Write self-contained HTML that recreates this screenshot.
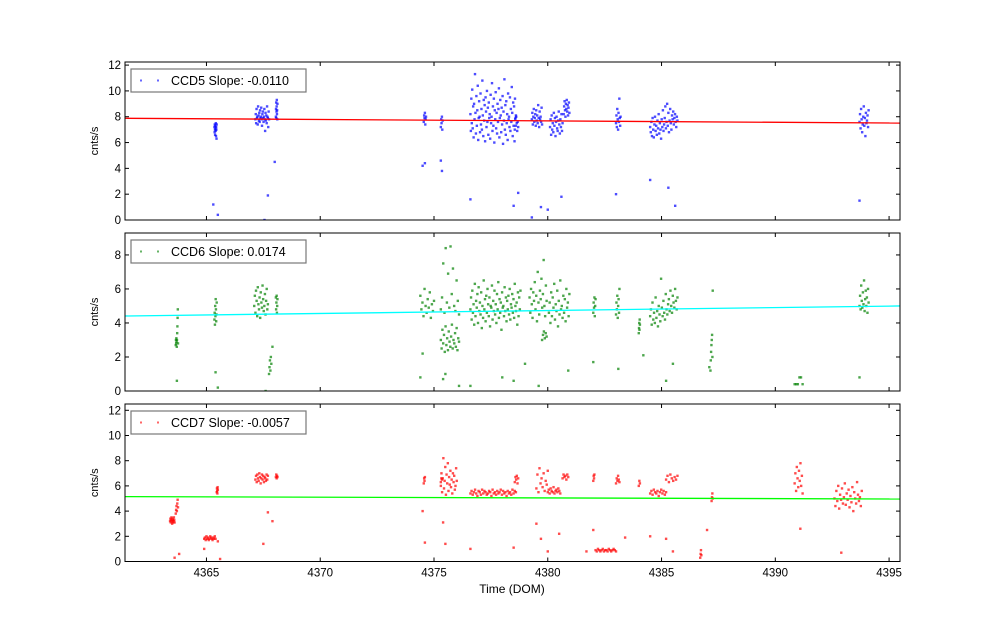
<!DOCTYPE html>
<html><head><meta charset="utf-8"><style>
body{margin:0;background:#fff;}
svg{display:block;font-family:"Liberation Sans","DejaVu Sans",sans-serif;}
</style></head><body>
<svg id="chart" width="1000" height="624" viewBox="0 0 1000 624" xmlns="http://www.w3.org/2000/svg">
<rect width="1000" height="624" fill="#fff"/>
</svg>
<script>
const xTicks=[4365,4370,4375,4380,4385,4390,4395];
const xDomain=[4361.42,4395.48];
const ccd5Label="CCD5 Slope: -0.0110", ccd6Label="CCD6 Slope: 0.0174", ccd7Label="CCD7 Slope: -0.0057";
const ccd5Fit=[7.88,7.51], ccd6Fit=[4.41,5.0], ccd7Fit=[5.15,4.96];

const ccd5SegStart=[4365.35,4367.15,4368.05,4374.55,4375.3,4376.6,4378.55,4379.3,4380.1,4380.7,4383.0,4384.5,4393.7];
const ccd5SegEnd=[4365.45,4367.75,4368.12,4374.65,4375.38,4378.6,4378.7,4379.75,4380.65,4380.95,4383.2,4385.7,4394.1];
const ccd5SegVals=[
[7.2,6.8,7.4,7.0,6.6,7.3,7.1,6.9,7.5,6.5,7.2,7.0,6.3,7.4],
[7.8,8.2,7.5,8.6,7.9,8.0,7.4,8.8,8.1,7.7,8.3,7.6,8.5,7.9,8.0,8.7,7.8,7.3,8.2,8.4,7.9,7.6,8.0,8.6,7.8,6.9,8.3,7.7,8.1,7.5,8.8,8.0,7.9,7.2,8.4,7.8],
[8.0,8.6,9.1,7.9,8.4,8.8,9.3,8.2,8.5,7.8,9.0],
[7.6,8.1,7.9,8.3,7.4,7.8,8.0],
[7.2,7.8,7.5,8.0,7.0,7.7],
[8.2,6.9,9.4,7.5,10.1,7.1,8.8,6.4,9.0,7.8,11.3,8.3,6.7,9.6,7.3,8.5,10.4,6.2,7.9,9.2,8.0,6.8,9.8,7.4,8.6,7.0,10.8,8.1,6.5,9.3,7.7,8.9,6.1,9.5,8.4,7.2,10.0,7.6,8.7,6.6,9.1,7.9,8.2,6.3,9.7,7.5,8.0,10.6,6.9,8.8,7.3,9.4,6.0,8.5,7.8,9.9,7.1,8.3,6.7,9.0,7.6,8.6,10.2,6.4,7.9,9.3,8.1,6.8,8.7,7.4,9.6,5.9,8.4,7.7,10.9,7.0,8.9,6.6,9.2,7.5,8.2,6.2,9.8,7.8,8.0,7.2,9.5,6.9,8.6,7.6,10.3,8.3,6.5,9.1,7.3,8.8,6.1,9.4,7.9,8.1],
[7.0,7.8,7.3,8.0,7.5,6.9,7.6,7.2],
[7.8,8.3,7.4,8.0,8.6,7.6,7.9,8.2,7.3,8.5,7.7,8.1,7.5,8.9,7.9,7.2,8.4,7.8,8.0,7.6,8.7,7.4],
[7.2,7.8,6.6,8.1,7.0,7.5,6.8,8.3,7.3,7.9,6.5,7.6,8.0,7.1,6.9,7.7,8.4,7.4,6.7,7.8,7.2,8.2,6.9,7.5],
[8.2,8.8,9.2,8.5,8.0,9.0,8.6,9.3,8.4,8.9,8.1,8.7,9.1,8.3],
[7.5,8.1,7.2,8.6,7.8,7.0,8.3,7.6,9.4,7.9,7.3,8.0],
[7.2,6.8,7.6,6.5,7.9,7.0,6.4,7.4,8.0,6.9,7.3,6.6,7.7,7.1,8.2,6.7,7.5,7.0,6.3,7.8,7.2,8.5,6.9,7.4,7.9,8.8,7.1,7.6,9.0,7.3,8.3,6.8,7.7,8.6,7.5,7.0,8.1,7.8,8.4,7.4,7.9,8.2,7.6,7.2,8.0,7.7],
[7.6,8.2,7.1,8.6,7.8,6.8,7.4,8.0,8.8,7.3,7.9,6.5,8.3,7.5,7.7,8.1,7.2,8.5]];
const ccd5OutT=[4365.3,4365.5,4367.7,4367.55,4368.0,4374.5,4374.6,4375.3,4375.35,4376.6,4378.7,4378.5,4379.3,4380.0,4379.7,4380.6,4383.0,4384.5,4385.3,4385.6,4393.7];
const ccd5OutV=[1.2,0.4,1.9,0.0,4.5,4.2,4.4,4.6,3.8,1.6,2.1,1.1,0.2,0.8,1.0,1.8,2.0,3.1,2.5,1.1,1.5];

const ccd6SegStart=[4363.65,4365.35,4367.1,4367.75,4368.05,4374.4,4375.3,4375.3,4376.6,4379.2,4379.75,4380.05,4382.0,4383.0,4384.0,4384.5,4387.15,4390.85,4393.7];
const ccd6SegEnd=[4363.75,4365.45,4367.7,4367.85,4368.12,4375.0,4376.1,4376.1,4378.8,4379.95,4379.95,4380.95,4382.1,4383.15,4384.05,4385.7,4387.25,4391.2,4394.1];
const ccd6SegVals=[
[2.7,3.0,2.8,3.1,2.9,2.6,3.0,3.4,3.8,4.3,4.8,2.8],
[4.2,4.6,3.9,5.0,4.4,5.4,4.8,4.1,4.5,5.2],
[5.0,5.6,4.6,5.9,5.3,4.4,6.1,5.1,4.8,5.5,4.3,5.8,5.2,4.9,6.2,5.4,4.7,5.0,5.7,4.5,5.3,6.0,4.8,5.1],
[1.0,1.4,1.8,1.2,2.0,1.6],
[5.5,4.8,5.2,5.6,4.6,5.0,5.4],
[5.6,4.8,5.2,4.4,6.0,5.0,4.6,5.4,4.9,5.8,4.3,5.1,4.7,5.3],
[3.0,2.5,3.6,2.8,3.3,2.3,3.8,2.7,3.1,2.4,3.5,2.9,2.6,3.2,3.9,2.5,3.0,2.8,3.4,2.6,3.7,2.4,3.1,2.9],
[4.8,5.5,7.5,4.6,8.4,5.2,6.9,4.9,8.5,5.7,7.2,5.0,4.7,6.5,5.3,4.5],
[4.8,5.5,4.2,5.9,4.6,5.1,3.9,6.3,4.4,5.3,4.9,5.7,4.0,6.1,4.7,5.2,4.5,5.8,3.7,5.0,4.3,6.5,4.8,5.4,4.1,5.6,4.6,6.0,5.1,4.4,5.5,3.8,5.0,4.9,6.2,4.2,5.3,4.7,5.9,4.5,5.1,4.0,5.7,4.8,6.4,4.3,5.4,4.6,5.2,3.6,5.8,4.9,5.0,4.4,6.1,4.7,5.5,4.1,5.3,4.8,5.6,4.5,6.0,4.2,5.1,4.9,5.7,4.6,5.4,4.3,6.3,5.0,4.7,5.2,3.9,5.8,4.4,5.5,4.8,5.9],
[5.5,4.6,6.0,5.1,4.3,5.8,5.3,6.4,4.8,5.6,4.1,7.0,5.2,4.5,5.9,5.4,6.6,4.9,5.7,7.7,5.0,4.4,6.2,5.3],
[3.0,3.3,3.5,3.1,3.4,3.2],
[4.6,5.2,4.0,5.8,4.4,5.5,4.9,6.3,4.2,5.1,4.7,5.9,3.8,5.3,4.5,6.5,4.8,5.0,4.3,5.6,4.6,5.4,4.1,6.0,4.9,5.2,4.4,5.7],
[4.6,5.2,4.9,5.5,4.4,5.0,5.4],
[4.5,5.2,4.8,5.6,4.3,5.0,5.4,4.6,6.0],
[3.4,3.7,4.0,3.6,4.2,3.9],
[4.4,4.8,3.9,5.2,4.2,4.6,4.0,5.5,4.3,4.7,3.8,5.0,4.5,4.1,6.6,4.9,4.4,5.3,4.6,4.2,5.7,4.8,4.5,5.1,5.4,4.7,5.9,5.0,4.6,5.6,5.2,4.9,6.0,5.3,4.8,5.5],
[1.2,1.8,2.3,2.7,3.0,3.3,2.0,5.9],
[0.4,0.4,0.4,0.8,0.8,0.4],
[5.0,5.6,4.8,6.2,5.3,4.9,5.8,5.1,6.5,4.7,5.4,5.9,5.0,5.5,4.6,6.0,5.2]];
const ccd6OutT=[4363.7,4365.4,4365.5,4367.6,4367.9,4374.4,4374.5,4375.4,4375.5,4376.1,4376.6,4378.5,4378.0,4379.0,4379.6,4380.9,4382.0,4383.1,4384.2,4385.2,4385.5,4387.1,4393.7];
const ccd6OutV=[0.6,1.1,0.2,0.0,2.6,0.8,2.2,0.7,1.0,0.3,0.3,0.6,0.8,1.6,0.3,1.2,1.7,1.3,2.1,0.6,1.6,1.4,0.8];

const ccd7SegStart=[4363.4,4363.65,4364.9,4365.45,4367.15,4368.05,4374.55,4375.3,4375.3,4376.6,4378.55,4379.5,4380.0,4380.65,4382.0,4382.1,4383.0,4384.0,4384.5,4385.2,4386.7,4387.2,4390.85,4392.6];
const ccd7SegEnd=[4363.6,4363.75,4365.4,4365.5,4367.7,4368.12,4374.6,4375.35,4376.0,4378.6,4378.7,4380.0,4380.55,4380.9,4382.05,4383.0,4383.15,4384.05,4385.2,4385.7,4386.75,4387.25,4391.2,4393.8];
const ccd7SegVals=[
[3.2,3.4,3.1,3.3,3.5,3.2,3.0,3.4,3.3,3.1,3.2,3.5,3.3,3.1],
[3.8,4.1,4.4,4.0,4.6,4.9,4.3],
[1.8,1.9,1.7,2.0,1.8,1.9,1.7,1.8,2.0,1.9,1.8,1.7,1.9,1.8,2.0,1.8],
[5.5,5.8,5.6,5.4,5.9,5.7],
[6.5,6.8,6.3,6.9,6.6,6.4,7.0,6.7,6.2,6.6,6.9,6.5,6.8,6.3,6.7,6.6,6.4,6.9,6.5,6.8],
[6.7,6.9,6.6,6.8,6.7],
[6.2,6.6,6.4,6.7],
[6.3,6.6,6.5],
[6.0,7.0,5.5,6.6,8.2,5.8,6.4,7.5,5.3,6.9,6.2,7.8,5.6,6.7,6.1,7.2,5.9,6.5,5.4,7.0,6.3,6.8,5.7,6.0,7.4,6.4],
[5.4,5.6,5.3,5.5,5.7,5.4,5.2,5.6,5.5,5.3,5.7,5.4,5.6,5.5,5.3,5.4,5.6,5.5,5.2,5.7,5.4,5.5,5.3,5.6,5.4,5.5,5.7,5.3,5.6,5.4,5.5,5.2,5.6,5.4,5.5,5.3,5.7,5.4,5.6,5.5],
[6.3,6.7,6.5,6.8,6.2,6.6],
[5.8,6.9,5.5,7.4,6.2,6.6,5.9,7.0,5.6,6.4,6.1,7.2],
[5.5,5.7,5.4,5.8,5.6,5.5,5.9,5.4,5.6,5.7,5.5,5.8,5.6,5.4],
[6.6,6.9,6.7,6.8,6.5,6.9,6.7],
[6.4,6.8,6.6,6.9],
[0.9,0.8,1.0,0.9,0.8,0.9,1.0,0.8,0.9,0.9,0.8,1.0,0.9,0.8,0.9,1.0,0.9,0.8],
[6.2,6.6,6.4,6.8,6.5,6.3],
[6.0,6.4,6.2],
[5.4,5.6,5.3,5.7,5.5,5.4,5.6,5.2,5.5,5.7,5.4,5.6,5.3,5.5],
[6.5,6.8,6.3,6.9,6.6,6.4,6.7,6.5,6.8],
[0.3,0.6,0.9,0.5],
[4.8,5.1,5.4,5.0],
[6.2,7.0,5.6,7.5,6.6,5.9,7.2,6.4,7.8,6.0,6.8,5.4],
[5.0,4.4,5.6,4.8,6.0,4.2,5.3,4.9,5.8,4.6,5.1,6.2,4.5,5.4,4.9,5.7,4.3,5.2,4.7,5.9,4.0,5.5,5.0,4.6,6.3,5.3,4.8,5.1,4.4,5.6]];
const ccd7OutT=[4363.6,4363.8,4364.9,4365.5,4365.6,4367.5,4367.7,4367.9,4374.5,4374.6,4375.4,4375.5,4376.6,4378.5,4379.5,4379.7,4380.0,4380.5,4381.7,4382.0,4383.4,4384.5,4385.2,4385.5,4387.0,4391.1,4392.9];
const ccd7OutV=[0.3,0.6,1.0,1.6,0.2,1.4,3.9,3.2,4.0,1.5,3.1,1.4,1.0,1.1,3.0,1.8,0.8,2.2,0.8,2.5,1.9,2.0,1.8,0.8,2.5,2.6,0.7];

const NS="http://www.w3.org/2000/svg";
const svg=document.getElementById('chart');
const L=125,R=900;
function xs(t){return L+(t-xDomain[0])/(xDomain[1]-xDomain[0])*(R-L);}
function mk(tag,attrs,parent){const e=document.createElementNS(NS,tag);for(const k in attrs)e.setAttribute(k,attrs[k]);(parent||svg).appendChild(e);return e;}

function panel(key,top,bot,ymax,yTicks,segS,segE,segV,outT,outV,fit,color,fitColor,label,showX){
  const g=mk('g',{});
  
  
  const ys=v=>bot-v/ymax*(bot-top);
  const cp='clip-'+key;
  const defs=mk('defs',{},g);const c=mk('clipPath',{id:cp},defs);mk('rect',{x:L,y:top,width:R-L,height:bot-top},c);
  const pts=mk('g',{'clip-path':'url(#'+cp+')'},g);
  
  
  function dot(t,v){mk('rect',{x:(xs(t)-1.2).toFixed(2),y:(ys(v)-1.2).toFixed(2),width:2.4,height:2.4,fill:color,'fill-opacity':0.7},pts);}
  segV.forEach((vals,i)=>{const n=vals.length;vals.forEach((v,j)=>{const t=n>1?segS[i]+(segE[i]-segS[i])*j/(n-1):segS[i];dot(t,v);});});
  outT.forEach((t,i)=>dot(t,outV[i]));
  const fl=mk('line',{x1:xs(xDomain[0]),y1:ys(fit[0]),x2:xs(xDomain[1]),y2:ys(fit[1]),stroke:fitColor,'stroke-width':1.3,'clip-path':'url(#'+cp+')'},g);
  
  
  const fr=mk('rect',{x:L,y:top,width:R-L,height:bot-top,fill:'none',stroke:'#000','stroke-width':1},g);
  
  
  yTicks.forEach(v=>{const y=ys(v);
    mk('line',{x1:L,y1:y,x2:L+4,y2:y,stroke:'#000'},g);mk('line',{x1:R,y1:y,x2:R-4,y2:y,stroke:'#000'},g);
    const tx=mk('text',{x:L-4,y:y+4,'text-anchor':'end','font-size':11.5,fill:'#000'},g);tx.textContent=v;
    
    });
  xTicks.forEach(t=>{const x=xs(t);
    mk('line',{x1:x,y1:bot,x2:x,y2:bot-4,stroke:'#000'},g);mk('line',{x1:x,y1:top,x2:x,y2:top+4,stroke:'#000'},g);
    if(showX){const tx=mk('text',{x:x,y:bot+15,'text-anchor':'middle','font-size':11.5,fill:'#000'},g);tx.textContent=t;
      
      }});
  const yl=mk('text',{x:0,y:0,transform:`translate(98,${(top+bot)/2}) rotate(-90)`,'text-anchor':'middle','font-size':11,fill:'#000'},g);yl.textContent='cnts/s';
  
  
  const lg=mk('g',{},g);
  
  
  mk('rect',{x:131,y:top+7,width:175,height:23,fill:'#fff',stroke:'#777','stroke-width':1.2},lg);
  mk('rect',{x:140,y:top+17.5,width:2,height:2,fill:color,'fill-opacity':0.6},lg);
  mk('rect',{x:157,y:top+17.5,width:2,height:2,fill:color,'fill-opacity':0.6},lg);
  const lt=mk('text',{x:171,y:top+23,'font-size':12.5,fill:'#000'},lg);lt.textContent=label;
  
  
}
panel('ccd5',62,220,12.24,[0,2,4,6,8,10,12],ccd5SegStart,ccd5SegEnd,ccd5SegVals,ccd5OutT,ccd5OutV,ccd5Fit,'#0000ff','#ff0000',ccd5Label,false);
panel('ccd6',233,391,9.29,[0,2,4,6,8],ccd6SegStart,ccd6SegEnd,ccd6SegVals,ccd6OutT,ccd6OutV,ccd6Fit,'#008000','#00ffff',ccd6Label,false);
panel('ccd7',404,561.5,12.5,[0,2,4,6,8,10,12],ccd7SegStart,ccd7SegEnd,ccd7SegVals,ccd7OutT,ccd7OutV,ccd7Fit,'#ff0000','#00ff00',ccd7Label,true);
const xt=mk('text',{x:512,y:593,'text-anchor':'middle','font-size':12,fill:'#000'});xt.textContent='Time (DOM)';


</script>
</body></html>
